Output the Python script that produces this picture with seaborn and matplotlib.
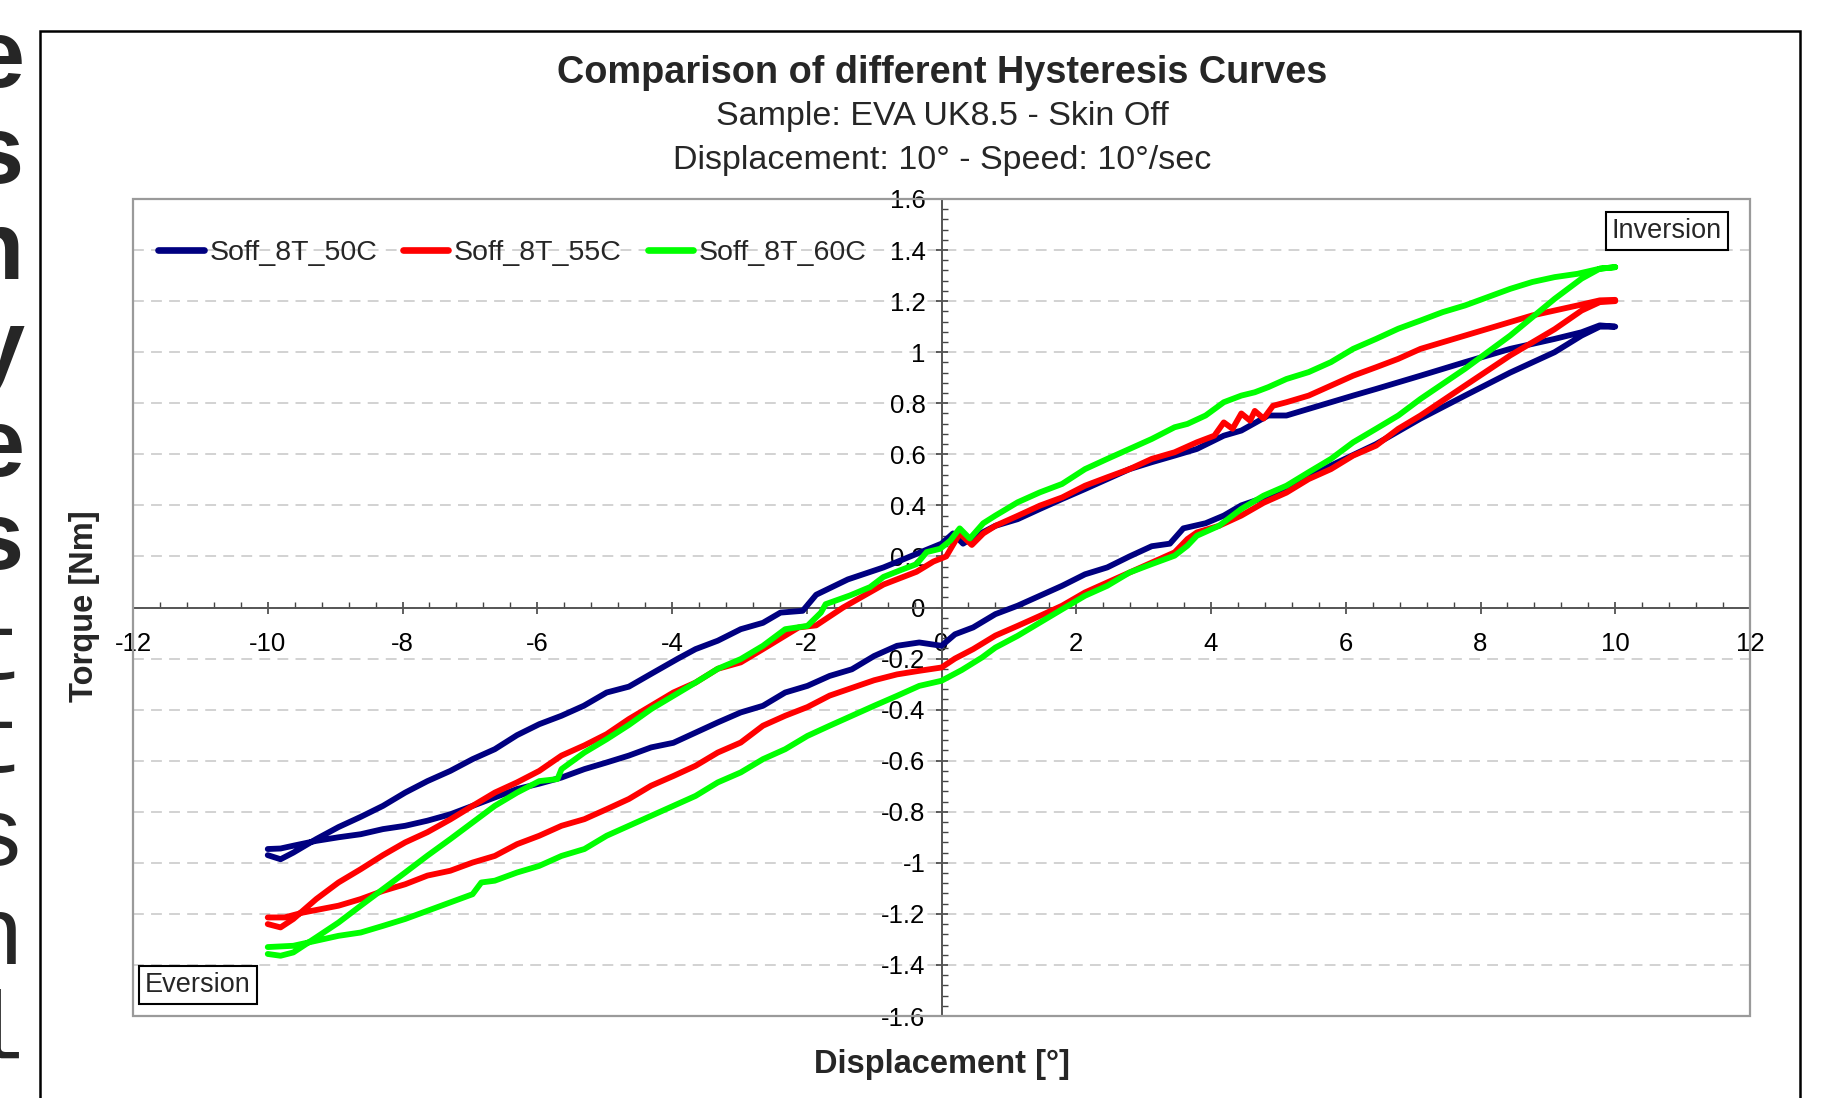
import numpy as np
import pandas as pd
import matplotlib
matplotlib.use("Agg")
import matplotlib.pyplot as plt
from matplotlib.ticker import MultipleLocator
from matplotlib.patches import Rectangle
import seaborn as sns

# ---------------- data ----------------
series_names = ["Soff_8T_50C", "Soff_8T_55C", "Soff_8T_60C"]
series_colors = ["#000080", "#FF0000", "#00FF00"]

x_ticks = [-12, -10, -8, -6, -4, -2, 0, 2, 4, 6, 8, 10, 12]
x_tick_labels = ["-12", "-10", "-8", "-6", "-4", "-2", "0", "2", "4", "6", "8", "10", "12"]
y_ticks = [-1.6, -1.4, -1.2, -1.0, -0.8, -0.6, -0.4, -0.2, 0.0, 0.2, 0.4, 0.6, 0.8, 1.0, 1.2, 1.4, 1.6]
y_tick_labels = ["-1.6", "-1.4", "-1.2", "-1", "-0.8", "-0.6", "-0.4", "-0.2", "0",
                 "0.2", "0.4", "0.6", "0.8", "1", "1.2", "1.4", "1.6"]

# Soff_8T_50C : loading branch (-10 -> 10)
x50_load = [-10.0, -9.81, -9.62, -9.28, -8.95, -8.62, -8.29, -7.96, -7.63, -7.29, -6.96, -6.63,
            -6.30, -5.97, -5.64, -5.30, -4.97, -4.64, -4.31, -3.98, -3.65, -3.32, -2.98, -2.65,
            -2.32, -1.99, -1.66, -1.33, -1.0, -0.66, -0.33, 0.0, 0.2, 0.47, 0.80, 1.13, 1.46,
            1.79, 2.13, 2.46, 2.79, 3.12, 3.39, 3.59, 3.92, 4.19, 4.45, 4.78, 5.12, 5.45, 5.78,
            6.45, 7.11, 7.77, 8.44, 9.10, 9.50, 9.77, 10.0]
y50_load = [-0.946, -0.944, -0.933, -0.914, -0.90, -0.888, -0.868, -0.855, -0.835, -0.81, -0.777,
            -0.744, -0.711, -0.69, -0.666, -0.633, -0.607, -0.58, -0.548, -0.53, -0.49, -0.45,
            -0.411, -0.385, -0.333, -0.307, -0.268, -0.242, -0.19, -0.15, -0.137, -0.15, -0.105,
            -0.078, -0.026, 0.007, 0.046, 0.085, 0.13, 0.157, 0.20, 0.24, 0.25, 0.31, 0.33, 0.36,
            0.40, 0.43, 0.46, 0.51, 0.556, 0.64, 0.74, 0.83, 0.92, 1.0, 1.065, 1.10, 1.10]
# Soff_8T_50C : unloading branch (10 -> -10)
x50_unload = [10.0, 9.77, 9.50, 9.10, 8.44, 7.77, 7.11, 6.45, 6.11, 5.78, 5.45, 5.12, 4.85, 4.45,
              4.19, 3.79, 3.46, 3.12, 2.79, 2.46, 2.13, 1.79, 1.46, 1.13, 0.80, 0.47, 0.32, 0.17,
              0.0, -0.37, -0.86, -1.39, -1.86, -2.06, -2.39, -2.65, -2.98, -3.32, -3.65, -3.91,
              -4.31, -4.64, -4.97, -5.31, -5.64, -5.97, -6.30, -6.63, -6.96, -7.29, -7.63, -7.96,
              -8.29, -8.62, -8.95, -9.28, -9.62, -9.81, -10.0]
y50_unload = [1.10, 1.105, 1.078, 1.052, 1.013, 0.961, 0.908, 0.856, 0.83, 0.804, 0.778, 0.752,
              0.752, 0.693, 0.673, 0.621, 0.595, 0.569, 0.542, 0.503, 0.464, 0.425, 0.386, 0.346,
              0.32, 0.275, 0.25, 0.29, 0.25, 0.21, 0.157, 0.11, 0.05, -0.013, -0.02, -0.06, -0.085,
              -0.13, -0.163, -0.20, -0.26, -0.31, -0.333, -0.385, -0.424, -0.457, -0.50, -0.555,
              -0.594, -0.64, -0.68, -0.725, -0.777, -0.82, -0.86, -0.907, -0.96, -0.986, -0.97]

# Soff_8T_55C : loading branch
x55_load = [-10.0, -9.75, -9.48, -8.95, -8.62, -8.29, -7.96, -7.63, -7.29, -6.96, -6.63, -6.30,
            -5.97, -5.64, -5.30, -4.97, -4.64, -4.31, -3.98, -3.65, -3.32, -2.98, -2.65, -2.32,
            -1.99, -1.66, -1.33, -1.0, -0.66, -0.33, 0.0, 0.2, 0.47, 0.80, 1.13, 1.46, 1.79, 2.13,
            2.46, 2.79, 3.12, 3.46, 3.65, 3.79, 4.12, 4.45, 4.78, 5.12, 5.45, 5.78, 6.11, 6.45,
            6.78, 7.11, 7.77, 8.44, 9.10, 9.50, 9.77, 10.0]
y55_load = [-1.214, -1.214, -1.195, -1.168, -1.142, -1.11, -1.084, -1.05, -1.031, -0.999, -0.973,
            -0.927, -0.894, -0.855, -0.829, -0.79, -0.75, -0.698, -0.66, -0.62, -0.568, -0.529,
            -0.463, -0.424, -0.39, -0.345, -0.315, -0.285, -0.262, -0.248, -0.235, -0.20, -0.163,
            -0.11, -0.072, -0.033, 0.007, 0.059, 0.098, 0.137, 0.176, 0.216, 0.268, 0.294, 0.32,
            0.36, 0.41, 0.45, 0.503, 0.542, 0.595, 0.634, 0.70, 0.752, 0.869, 0.987, 1.09, 1.163,
            1.196, 1.20]
# Soff_8T_55C : unloading branch
x55_unload = [10.0, 9.77, 9.44, 9.10, 8.77, 8.44, 8.11, 7.77, 7.44, 7.11, 6.78, 6.45, 6.11, 5.78,
              5.45, 5.12, 4.92, 4.78, 4.65, 4.58, 4.45, 4.32, 4.19, 4.05, 3.79, 3.46, 3.12, 2.79,
              2.46, 2.13, 1.79, 1.46, 1.13, 0.80, 0.62, 0.45, 0.27, 0.07, -0.12, -0.37, -0.86,
              -1.46, -1.86, -2.12, -2.32, -2.65, -2.98, -3.32, -3.65, -3.98, -4.31, -4.64, -4.97,
              -5.30, -5.64, -5.97, -6.30, -6.63, -6.96, -7.29, -7.63, -7.96, -8.29, -8.62, -8.95,
              -9.28, -9.62, -9.81, -10.0]
y55_unload = [1.205, 1.203, 1.183, 1.163, 1.144, 1.118, 1.092, 1.065, 1.039, 1.013, 0.974, 0.941,
              0.908, 0.869, 0.83, 0.804, 0.79, 0.74, 0.77, 0.732, 0.76, 0.70, 0.725, 0.673, 0.647,
              0.608, 0.582, 0.542, 0.51, 0.477, 0.431, 0.399, 0.359, 0.32, 0.29, 0.245, 0.29, 0.20,
              0.18, 0.14, 0.09, 0.0, -0.07, -0.078, -0.11, -0.163, -0.215, -0.24, -0.294, -0.333,
              -0.385, -0.437, -0.496, -0.54, -0.58, -0.64, -0.685, -0.725, -0.777, -0.83, -0.88,
              -0.92, -0.97, -1.025, -1.077, -1.142, -1.22, -1.253, -1.24]

# Soff_8T_60C : loading branch
x60_load = [-10.0, -9.62, -9.28, -8.95, -8.62, -8.29, -7.96, -7.63, -7.29, -6.96, -6.83, -6.63,
            -6.30, -5.97, -5.64, -5.30, -4.97, -4.64, -4.31, -3.98, -3.65, -3.32, -2.98, -2.65,
            -2.32, -1.99, -1.66, -1.33, -1.0, -0.66, -0.33, 0.0, 0.3, 0.6, 0.8, 1.13, 1.46, 1.79,
            2.13, 2.46, 2.79, 3.12, 3.46, 3.65, 3.79, 4.12, 4.45, 4.78, 5.12, 5.45, 5.78, 6.11,
            6.45, 6.78, 7.11, 7.77, 8.44, 9.10, 9.50, 9.77, 10.0]
y60_load = [-1.33, -1.325, -1.305, -1.286, -1.273, -1.247, -1.22, -1.188, -1.155, -1.123, -1.077,
            -1.07, -1.038, -1.012, -0.973, -0.946, -0.894, -0.855, -0.816, -0.777, -0.738, -0.685,
            -0.646, -0.594, -0.555, -0.503, -0.463, -0.424, -0.385, -0.346, -0.307, -0.287, -0.245,
            -0.196, -0.157, -0.111, -0.059, -0.007, 0.046, 0.085, 0.137, 0.17, 0.203, 0.242, 0.281,
            0.32, 0.386, 0.438, 0.477, 0.53, 0.582, 0.647, 0.70, 0.752, 0.817, 0.935, 1.065, 1.209,
            1.288, 1.327, 1.333]
# Soff_8T_60C : unloading branch
x60_unload = [10.0, 9.77, 9.44, 9.10, 8.77, 8.44, 8.11, 7.77, 7.44, 7.11, 6.78, 6.45, 6.11, 5.78,
              5.45, 5.12, 4.85, 4.65, 4.45, 4.19, 3.92, 3.65, 3.46, 3.12, 2.79, 2.46, 2.13, 1.79,
              1.46, 1.13, 0.80, 0.62, 0.42, 0.27, 0.13, -0.02, -0.22, -0.37, -0.62, -0.86, -1.06,
              -1.36, -1.72, -1.79, -1.99, -2.32, -2.65, -2.98, -3.32, -3.65, -3.98, -4.31, -4.64,
              -4.97, -5.30, -5.64, -5.70, -5.97, -6.30, -6.63, -6.96, -7.29, -7.63, -7.96, -8.29,
              -8.62, -8.95, -9.28, -9.62, -9.81, -10.0]
y60_unload = [1.333, 1.327, 1.307, 1.294, 1.275, 1.248, 1.216, 1.183, 1.157, 1.124, 1.092, 1.052,
              1.013, 0.961, 0.922, 0.895, 0.863, 0.843, 0.83, 0.804, 0.752, 0.719, 0.706, 0.66,
              0.621, 0.582, 0.542, 0.484, 0.451, 0.412, 0.36, 0.33, 0.27, 0.31, 0.262, 0.23, 0.217,
              0.17, 0.145, 0.12, 0.08, 0.047, 0.013, -0.02, -0.072, -0.085, -0.15, -0.202, -0.24,
              -0.294, -0.346, -0.398, -0.46, -0.516, -0.568, -0.633, -0.672, -0.68, -0.725, -0.777,
              -0.842, -0.907, -0.972, -1.038, -1.103, -1.168, -1.234, -1.292, -1.351, -1.364, -1.357]

# page text fragments visible at the left edge
edge_letters = ["e", "s", "n", "y", "e", "s", "t", "t", "s", "n", "l"]

# ---------------- build frame ----------------
loops = [(x50_load + x50_unload, y50_load + y50_unload),
         (x55_load + x55_unload, y55_load + y55_unload),
         (x60_load + x60_unload, y60_load + y60_unload)]
frames = []
for name, (xs, ys) in zip(series_names, loops):
    frames.append(pd.DataFrame({"x": xs, "y": ys, "series": name, "order": np.arange(len(xs))}))
df = pd.concat(frames, ignore_index=True)

# ---------------- style ----------------
sns.set_theme(style="white")
plt.rcParams["font.family"] = ["Liberation Sans", "DejaVu Sans"]

W, H = 1821, 1098
fig = plt.figure(figsize=(W / 100, H / 100), dpi=100)

def fx(px):
    return px / W

def fy(py):
    return 1 - py / H

ax = fig.add_axes([fx(133), fy(1016), fx(1750) - fx(133), fy(199) - fy(1016)])

sns.lineplot(data=df, x="x", y="y", hue="series", hue_order=series_names,
             palette=dict(zip(series_names, series_colors)), sort=False, estimator=None,
             linewidth=4.2, ax=ax)
for ln in ax.get_lines():
    ln.set_solid_joinstyle("round")
    ln.set_solid_capstyle("round")

ax.set_xlim(-12, 12)
ax.set_ylim(-1.6, 1.6)
ax.set_xlabel("")
ax.set_ylabel("")

ax.set_xticks(x_ticks)
ax.set_xticklabels(x_tick_labels)
ax.set_yticks(y_ticks)
ax.set_yticklabels(y_tick_labels)
ax.xaxis.set_minor_locator(MultipleLocator(0.4))
ax.yaxis.set_minor_locator(MultipleLocator(0.04))

for s in ["top", "right"]:
    ax.spines[s].set_visible(False)
ax.spines["left"].set_position(("data", 0))
ax.spines["bottom"].set_position(("data", 0))
for s in ["left", "bottom"]:
    ax.spines[s].set_color("#555555")
    ax.spines[s].set_linewidth(1.4)
    ax.spines[s].set_zorder(1.5)

ax.add_patch(Rectangle((0, 0), 1, 1, transform=ax.transAxes, fill=False,
                       edgecolor="#9a9a9a", linewidth=1.6, clip_on=False, zorder=5))

ax.yaxis.grid(True, linestyle=(0, (6, 4)), color="#cfcfcf", linewidth=1.3)
ax.xaxis.grid(False)
ax.set_axisbelow(True)

ax.tick_params(which="both", bottom=True, left=True, top=False, right=False)
ax.tick_params(which="major", direction="inout", length=9, width=1.2, color="#444444",
               labelsize=18.5, labelcolor="black")
ax.tick_params(which="minor", direction="in", length=4, width=1.0, color="#444444")
ax.tick_params(axis="x", which="major", pad=13)
ax.tick_params(axis="y", which="major", pad=7)

# legend
handles, labels = ax.get_legend_handles_labels()
if ax.get_legend() is not None:
    ax.get_legend().remove()
leg = fig.legend(handles, labels, loc="center left", bbox_to_anchor=(fx(158), fy(253)),
                 ncol=3, frameon=False, fontsize=20.5, handlelength=1.6, handletextpad=0.2,
                 columnspacing=0.9, borderpad=0, borderaxespad=0)
for ln in leg.get_lines():
    ln.set_linewidth(4.8)
    ln.set_solid_capstyle("round")

# Inversion / Eversion boxes
box = dict(boxstyle="square,pad=0.22", facecolor="white", edgecolor="black", linewidth=1.5)
ax.text((1667 - 133) / 1617, (1016 - 231) / 817, "Inversion", transform=ax.transAxes,
        ha="center", va="center", fontsize=19.5, bbox=box, zorder=6)
ax.text((198 - 133) / 1617, (1016 - 985) / 817, "Eversion", transform=ax.transAxes,
        ha="center", va="center", fontsize=19.5, bbox=box, zorder=6)

# titles
fig.text(fx(942), fy(73), "Comparison of different Hysteresis Curves", ha="center",
         va="center", fontsize=27.3, fontweight="bold")
fig.text(fx(942), fy(117), "Sample: EVA UK8.5 - Skin Off", ha="center", va="center",
         fontsize=24.5)
fig.text(fx(942), fy(160), "Displacement: 10\u00b0 - Speed: 10\u00b0/sec", ha="center",
         va="center", fontsize=24.5)

# axis labels
fig.text(fx(942), fy(1064), "Displacement [\u00b0]", ha="center", va="center",
         fontsize=23.5, fontweight="bold")
fig.text(fx(84), fy(606), "Torque [Nm]", ha="center", va="center", rotation=90,
         fontsize=23.5, fontweight="bold")

# outer frame of the embedded chart
fig.patches.append(Rectangle((fx(40), -0.05), fx(1800) - fx(40), fy(31) + 0.05,
                             transform=fig.transFigure, fill=False, edgecolor="black",
                             linewidth=1.8, clip_on=False))

# page text fragments at the left edge
baselines = [87, 183, 279, 377, 476, 569, 679, 772, 865, 964, 1059]
for i, (ch, b) in enumerate(zip(edge_letters, baselines)):
    if i < 6:
        fig.text(fx(24), fy(b), ch, ha="right", va="baseline", fontsize=70,
                 fontweight="bold", family=["Liberation Sans", "DejaVu Sans"])
    else:
        fig.text(fx(24), fy(b), ch, ha="right", va="baseline", fontsize=70,
                 family=["Liberation Mono", "DejaVu Sans Mono"])

fig.savefig("out.png", dpi=100)
